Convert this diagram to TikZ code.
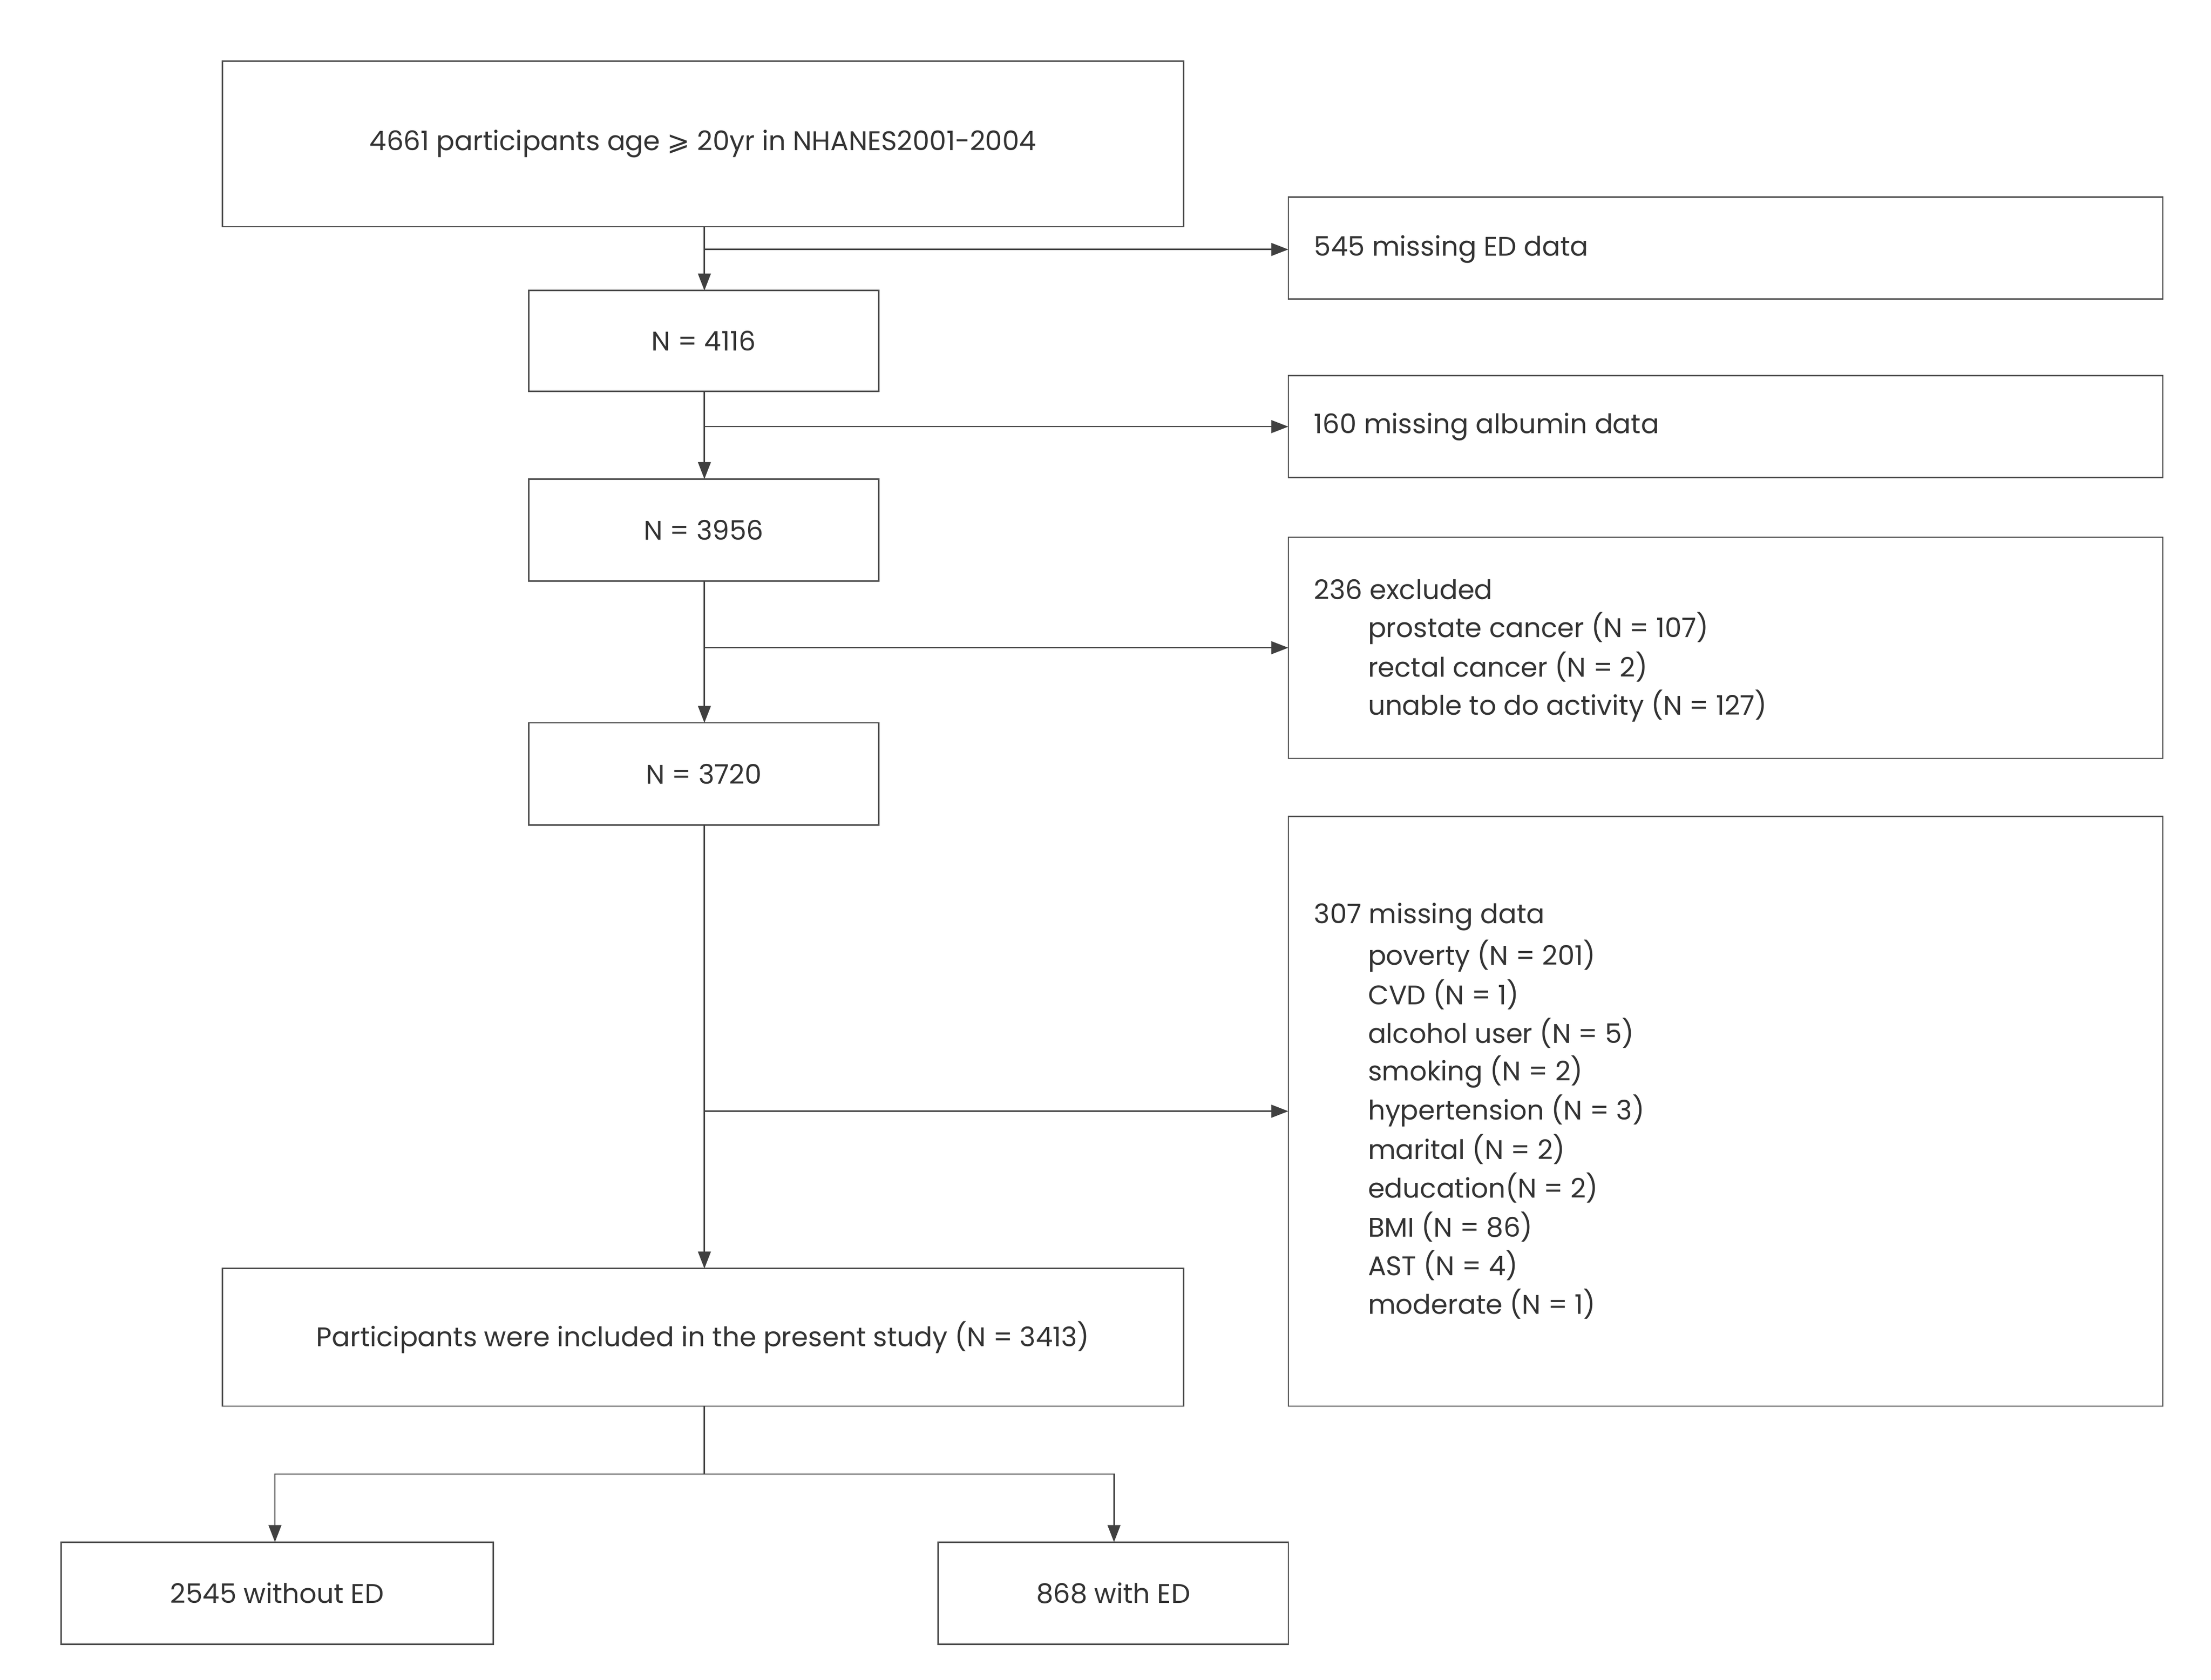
\documentclass[tikz,border=0pt]{standalone}
\usepackage{fontspec}
\setmainfont{Poppins}
\newfontfamily\symf{DejaVu Sans}
\usetikzlibrary{arrows.meta}
\begin{document}
\begin{tikzpicture}[x=1pt,y=-1pt,
  bx/.style={draw=black!70,line width=1pt},
  arr/.style={draw=black!75,line width=1pt,-{Triangle[length=12pt,width=9pt]}},
  ln/.style={draw=black!75,line width=1pt},
  tx/.style={font=\fontsize{19}{22}\selectfont,text=black!80,inner sep=0pt}]
\useasboundingbox (0,0) rectangle (1560,1185);
\path[bx] (157,43) rectangle (835,160) node[pos=.5,tx] (t0) {4661 participants age {\symf ⩾} 20yr in NHANES2001-2004};
\coordinate (top) at (497,160);
\path[bx] (909,139) rectangle (1526,211); \node[tx,anchor=west] (r1) at (927,176) {545 missing ED data};
\path[bx] (373,205) rectangle (620,276) node[pos=.5,tx] {N = 4116};
\path[bx] (909,265) rectangle (1526,337); \node[tx,anchor=west] (r2) at (927,301) {160 missing albumin data};
\path[bx] (373,338) rectangle (620,410) node[pos=.5,tx] {N = 3956};
\path[bx] (909,379) rectangle (1526,535);
\node[tx,anchor=west] at (927,416) {236 excluded};
\foreach \t [count=\i] in {prostate cancer (N = 107),rectal cancer (N = 2),unable to do activity (N = 127)}
  \node[tx,anchor=west] at (965,416+27.3*\i) {\t};
\path[bx] (373,510) rectangle (620,582) node[pos=.5,tx] {N = 3720};
\path[bx] (909,576) rectangle (1526,992);
\node[tx,anchor=west] at (927,647) {307 missing data};
\foreach \t [count=\i] in {poverty (N = 201),CVD (N = 1),alcohol user (N = 5),smoking (N = 2),hypertension (N = 3),marital (N = 2),education(N = 2),BMI (N = 86),AST (N = 4),moderate (N = 1)}
  \node[tx,anchor=west] at (965,647+27.3*\i) {\t};
\path[bx] (157,895) rectangle (835,992) node[pos=.5,tx] {Participants were included in the present study (N = 3413)};
\path[bx] (43,1088) rectangle (348,1160) node[pos=.5,tx] {2545 without ED};
\path[bx] (662,1088) rectangle (909,1160) node[pos=.5,tx] {868 with ED};
% connectors
\draw[arr] (497,160) -- (497,205);
\draw[arr] (497,176) -- (909,176);
\draw[arr] (497,276) -- (497,338);
\draw[arr] (497,301) -- (909,301);
\draw[arr] (497,410) -- (497,510);
\draw[arr] (497,457) -- (909,457);
\draw[arr] (497,582) -- (497,895);
\draw[arr] (497,784) -- (909,784);
\draw[ln] (497,992) -- (497,1040);
\draw[arr] (497,1040) -- (194,1040) -- (194,1088);
\draw[arr] (497,1040) -- (786,1040) -- (786,1088);
\end{tikzpicture}
\end{document}
